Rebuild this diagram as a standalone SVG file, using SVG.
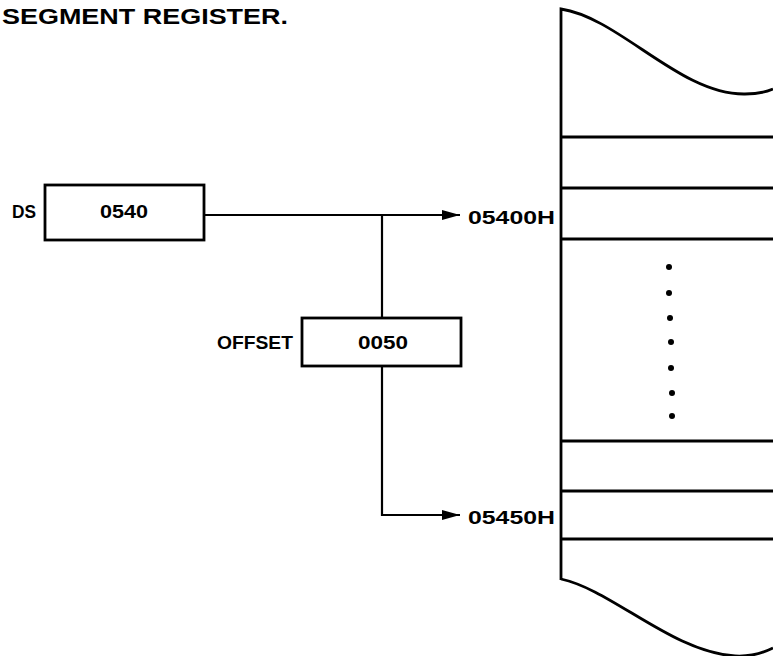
<svg xmlns="http://www.w3.org/2000/svg" width="773" height="656" viewBox="0 0 773 656">
  <style>
    text { font-family: "Liberation Sans", Arial, sans-serif; font-weight: bold; fill: #000; }
    .lbl { font-size: 17.5px; }
    .title { font-size: 22px; }
    .box { fill: #fff; stroke: #000; stroke-width: 2.8; }
    .conn { fill: none; stroke: #000; stroke-width: 2.2; }
    .mem { fill: none; stroke: #000; stroke-width: 2.8; }
  </style>
  <defs>
    <marker id="arrow" markerWidth="20" markerHeight="12" refX="18" refY="6" orient="auto" markerUnits="userSpaceOnUse">
      <path d="M0,1 L18,6 L0,11 Z" fill="#000"/>
    </marker>
  </defs>
  <rect width="773" height="656" fill="#fff"/>

  <text class="title" x="2" y="24" textLength="286" lengthAdjust="spacingAndGlyphs">SEGMENT REGISTER.</text>

  <g id="memory">
    <path class="mem" d="M561,580 L561,9 C620,18 680,95 745,94 C758,94 766,92 773,89"/>
    <path class="mem" d="M561,579 C612,590 672,652 735,656 C752,657 763,653 773,648"/>
    <path class="mem" d="M561,137 H773 M561,188 H773 M561,239 H773 M561,441 H773 M561,491 H773 M561,539 H773"/>
    <g fill="#000">
      <circle cx="669" cy="267" r="3"/>
      <circle cx="669" cy="293" r="3"/>
      <circle cx="670" cy="318" r="3"/>
      <circle cx="671" cy="342" r="3"/>
      <circle cx="671" cy="368" r="3"/>
      <circle cx="672" cy="393" r="3"/>
      <circle cx="672" cy="416" r="3"/>
    </g>
  </g>

  <g id="connectors">
    <path class="conn" d="M204,215 H460" marker-end="url(#arrow)"/>
    <path class="conn" d="M382,215 V318"/>
    <path class="conn" d="M382,366 V515 H460" marker-end="url(#arrow)"/>
  </g>

  <g id="ds">
    <text class="lbl" x="12" y="218" textLength="24" lengthAdjust="spacingAndGlyphs">DS</text>
    <rect class="box" x="45" y="185" width="159" height="55"/>
    <text class="lbl" x="100" y="218" textLength="48" lengthAdjust="spacingAndGlyphs">0540</text>
  </g>

  <g id="offset">
    <text class="lbl" x="217" y="349" textLength="76" lengthAdjust="spacingAndGlyphs">OFFSET</text>
    <rect class="box" x="302" y="318" width="159" height="48"/>
    <text class="lbl" x="358" y="349" textLength="50" lengthAdjust="spacingAndGlyphs">0050</text>
  </g>

  <g id="addr1">
    <text class="lbl" x="468" y="224" textLength="87" lengthAdjust="spacingAndGlyphs">05400H</text>
  </g>
  <g id="addr2">
    <text class="lbl" x="468" y="524" textLength="87" lengthAdjust="spacingAndGlyphs">05450H</text>
  </g>
</svg>
